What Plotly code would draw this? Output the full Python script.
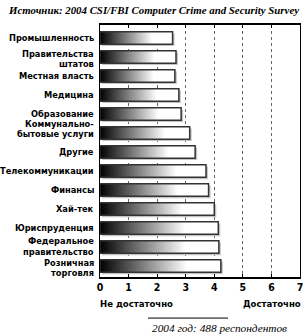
import plotly.graph_objects as go

categories = ["Промышленность", "Правительства<br>штатов", "Местная власть", "Медицина",
              "Образование", "Коммунально-<br>бытовые услуги", "Другие", "Телекоммуникации",
              "Финансы", "Хай-тек", "Юриспруденция", "Федеральное<br>правительство",
              "Розничная<br>торговля"]
values = [2.54, 2.66, 2.62, 2.76, 2.84, 3.14, 3.33, 3.71, 3.80, 4.0, 4.14, 4.16, 4.23]
x_ticks = [0, 1, 2, 3, 4, 5, 6, 7]

title_text = "Источник: 2004 CSI/FBI Computer Crime and Security Survey"
footer_text = "2004 год: 488 респондентов"

H = 0.66
SDX, SDY = 0.07, 0.1
LABEL_FONT = "DejaVu Sans Condensed"
LINE_GAP = 0.265
# vertical nudges (in category units) for two-line labels, as laid out in the original
LABEL_NUDGE = {1: 0.09, 5: -0.25, 11: -0.05, 12: 0.1}

fig = go.Figure()

# shadows
for i, v in enumerate(values):
    y0, y1 = i - H / 2 + SDY, i + H / 2 + SDY
    fig.add_trace(go.Scatter(x=[SDX, v + SDX, v + SDX, SDX, SDX], y=[y0, y0, y1, y1, y0],
                             mode="lines", fill="toself", fillcolor="#c4c4c4",
                             line=dict(width=0, color="#c4c4c4"), hoverinfo="skip",
                             showlegend=False))
# bars
for i, v in enumerate(values):
    y0, y1 = i - H / 2, i + H / 2
    fig.add_trace(go.Scatter(x=[0, v, v, 0, 0], y=[y0, y0, y1, y1, y0],
                             mode="lines", fill="toself",
                             fillgradient=dict(type="horizontal", start=0, stop=v,
                                               colorscale=[[0, "#000000"], [0.72, "#ffffff"], [1, "#ffffff"]]),
                             line=dict(width=1.5, color="#333333"),
                             showlegend=False, name=categories[i].replace("<br>", " ")))

fig.update_layout(
    width=303, height=334,
    margin=dict(l=100, r=3, t=25, b=57),
    paper_bgcolor="white", plot_bgcolor="white",
    xaxis=dict(range=[0, 7], tickvals=x_ticks, ticktext=[str(t) for t in x_ticks],
               automargin=False, ticklabeloverflow="allow",
               showgrid=True, gridcolor="#666666", griddash="dot", gridwidth=1,
               zeroline=False, showline=True, linecolor="black", linewidth=1.5,
               mirror="ticks", ticks="inside", ticklen=3, tickcolor="black",
               tickfont=dict(family=LABEL_FONT, size=10.5, color="black", weight="bold")),
    yaxis=dict(range=[12.58, -0.68], tickvals=list(range(len(categories))),
               ticktext=[""] * len(categories),
               automargin=False,
               showgrid=False, zeroline=False, showline=True, linecolor="black", linewidth=1,
               mirror=True, ticks=""),
)

# category labels (each line placed separately for tight leading)
for i, lab in enumerate(categories):
    lines = lab.split("<br>")
    n = len(lines)
    for k, ln in enumerate(lines):
        yy = i + (k - (n - 1) / 2) * 2 * LINE_GAP + LABEL_NUDGE.get(i, 0)
        fig.add_annotation(text=ln, xref="paper", yref="y", x=0, y=yy, xshift=-4,
                           xanchor="right", yanchor="middle", showarrow=False,
                           font=dict(family=LABEL_FONT, size=9.2, weight="bold", color="black"))

fig.add_annotation(text=title_text, xref="paper", yref="paper", x=-0.47, y=1.06,
                   xanchor="left", yanchor="middle", showarrow=False,
                   font=dict(family="Liberation Serif", size=10.85, style="italic", weight="bold", color="black"))
fig.add_annotation(text="Не достаточно", xref="x", yref="paper", x=0, y=-0.105,
                   xanchor="left", yanchor="middle", showarrow=False, xshift=-2,
                   font=dict(family=LABEL_FONT, size=9.5, weight="bold", color="black"))
fig.add_annotation(text="Достаточно", xref="x", yref="paper", x=5, y=-0.105,
                   xanchor="left", yanchor="middle", showarrow=False, xshift=-2,
                   font=dict(family=LABEL_FONT, size=9.5, weight="bold", color="black"))
fig.add_shape(type="line", xref="paper", yref="paper", x0=0.24, x1=0.64, y0=-0.163, y1=-0.163,
              line=dict(color="black", width=1))
fig.add_annotation(text=footer_text, xref="paper", yref="paper", x=0.25, y=-0.202,
                   xanchor="left", yanchor="middle", showarrow=False,
                   font=dict(family="Liberation Serif", size=11.3, style="italic", color="black"))

fig.write_html("out.html")
